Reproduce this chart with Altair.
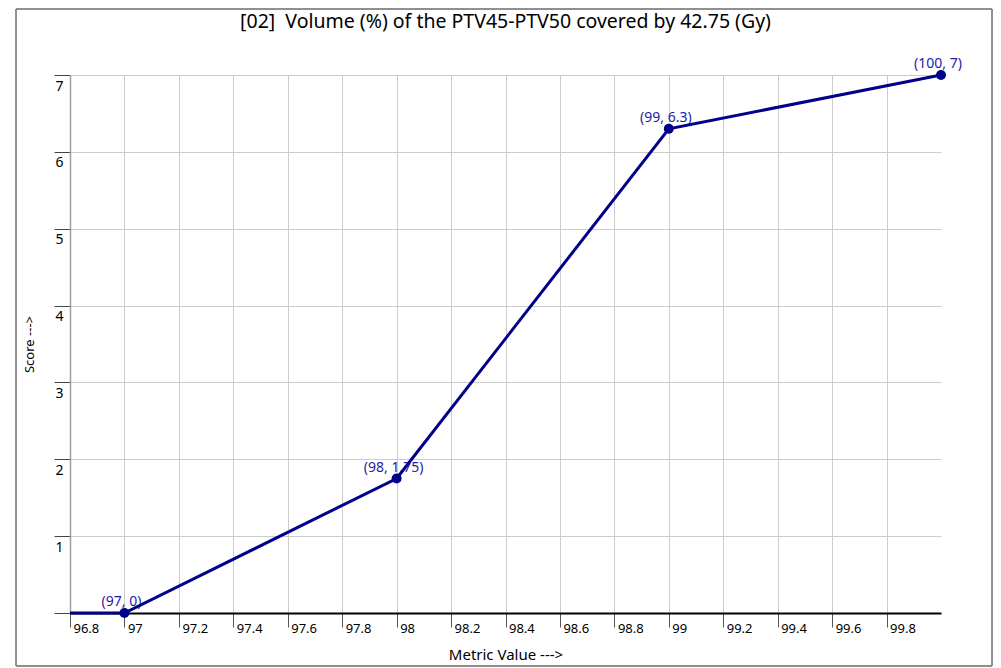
import altair as alt
import pandas as pd

# line data (line starts at left edge of the axis)
line_x = [96.8, 97, 98, 99, 100]
line_y = [0, 0, 1.75, 6.3, 7]

# labelled points
pt_x = [97, 98, 99, 100]
pt_y = [0, 1.75, 6.3, 7]
pt_label = ["(97, 0)", "(98, 1.75)", "(99, 6.3)", "(100, 7)"]

x_ticks = [96.8, 97.0, 97.2, 97.4, 97.6, 97.8, 98.0, 98.2, 98.4, 98.6, 98.8,
           99.0, 99.2, 99.4, 99.6, 99.8]
y_ticks = [0, 1, 2, 3, 4, 5, 6, 7]

title = ["[02]\u00a0 Volume (%) of the PTV45-PTV50 covered by 42.75 (Gy)"]
FONT = "Noto Sans"
BLUE = "#00008b"

line_df = pd.DataFrame({"x": line_x, "y": line_y})
pt_df = pd.DataFrame({"x": pt_x, "y": pt_y, "label": pt_label})
title_df = pd.DataFrame({"t": title})

xscale = alt.Scale(domain=[96.8, 100], nice=False, zero=False)
yscale = alt.Scale(domain=[0, 7], nice=False, zero=False)

xaxis = alt.Axis(
    values=x_ticks, title="Metric Value --->", format="~g",
    labelAlign="left", labelBaseline="top", labelOffset=3, labelPadding=-5,
    tickSize=14, tickColor="#555555", domainColor="#000000", domainWidth=2,
    gridColor="#cccccc", labelFont=FONT, labelFontSize=13, labelColor="#000000",
    titleFont=FONT, titleFontSize=15, titleFontWeight="normal", titlePadding=12,
    titleColor="#000000",
)
yaxis = alt.Axis(
    values=y_ticks, title="Score --->", format="d",
    labelExpr="datum.value == 0 ? '' : datum.label",
    labelAlign="left", labelBaseline="top", labelOffset=4, labelPadding=-1,
    tickSize=16, tickColor="#444444", domainColor="#a0a0a0", domainWidth=1.5,
    gridColor="#cccccc", labelFont=FONT, labelFontSize=14, labelColor="#000000",
    titleFont=FONT, titleFontSize=13, titleFontWeight="normal", titlePadding=17,
    titleColor="#000000",
)

base_line = alt.Chart(line_df).mark_line(color=BLUE, strokeWidth=3).encode(
    x=alt.X("x:Q", scale=xscale, axis=xaxis),
    y=alt.Y("y:Q", scale=yscale, axis=yaxis),
)

labels = alt.Chart(pt_df).mark_text(
    color="#1c1ca8", font=FONT, fontSize=14, align="center",
    baseline="bottom", dx=-3, dy=-4,
).encode(x=alt.X("x:Q", scale=xscale), y=alt.Y("y:Q", scale=yscale), text="label:N")

points = alt.Chart(pt_df).mark_circle(color=BLUE, size=100, opacity=1).encode(
    x=alt.X("x:Q", scale=xscale), y=alt.Y("y:Q", scale=yscale)
)

border = alt.Chart(pt_df).mark_rect(
    fill=None, stroke="#888888", strokeWidth=1
).encode(
    x=alt.value(-54), x2=alt.value(922), y=alt.value(-66), y2=alt.value(591)
)

title_mark = alt.Chart(title_df).mark_text(
    font=FONT, fontSize=19.5, color="#000000", align="center", baseline="middle"
).encode(x=alt.value(435.5), y=alt.value(-53), text="t:N")

chart = alt.layer(border, title_mark, labels, base_line, points).properties(
    width=871, height=538,
    autosize=alt.AutoSizeParams(type="none"),
    padding={"left": 62, "top": 67, "right": 52, "bottom": 55},
).configure_view(stroke=None).configure_axis(gridWidth=1)

chart.save("out.html", embed_options={"renderer": "svg", "actions": False})
